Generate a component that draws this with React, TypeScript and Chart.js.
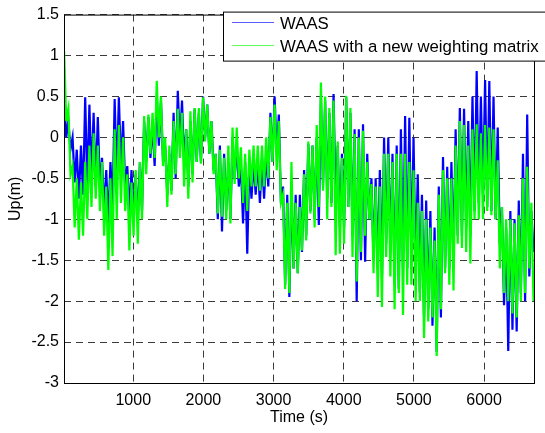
import React, { useEffect, useRef } from 'react';
import { Chart, registerables } from 'chart.js';

Chart.register(...registerables);

// Sampling of the time axis (seconds)
const START_TIME = 15;
const SAMPLE_STEP = 60;

// Axis ticks
const X_TICKS = [1000, 2000, 3000, 4000, 5000, 6000];
const Y_TICKS = [1.5, 1, 0.5, 0, -0.5, -1, -1.5, -2, -2.5, -3];

// WAAS: upper / lower excursion per 60 s sample window (m)
const waasHigh = [
  0.5, 0.2, 0.0, -0.15, -0.1, 0.49, 0.4, 0.3, 0.25, -0.25,
  -0.4, -0.3, 0.47, 0.49, 0.2, -0.35, -0.4, -0.45, -0.3, 0.2,
  0.25, 0.15, 0.5, 0.45, -0.1, -0.2, 0.3, 0.57, 0.45, 0.1,
  0.2, 0.35, 0.3, 0.5, 0.4, 0.2, -0.2, -0.1, -0.2, -0.3,
  0.0, -0.1, -0.35, -0.3, -0.3, -0.3, -0.3, -0.25, -0.2, 0.3,
  0.5, 0.28, -0.6, -0.7, -0.6, -0.7, -0.7, -0.4, -0.08, -0.1,
  0.0, 0.5, 0.45, 0.3, 0.53, -0.1, -0.2, 0.49, 0.3, 0.1,
  0.1, 0.16, -0.2, -0.5, -0.5, -0.4, 0.0, 0.0, -0.2, -0.1,
  0.1, 0.26, 0.24, 0.0, -0.45, -0.7, -0.77, -0.9, -1.1, -0.6,
  -0.24, -0.36, -0.3, 0.1, 0.36, 0.35, 0.2, 0.5, 0.81, 0.5,
  0.7, 0.69, 0.5, 0.12, -0.85, -1.1, -0.9, -1.0, -0.77, -0.2,
  0.28, -0.9,
];
const waasLow = [
  0.0, -0.15, -0.55, -0.75, -0.7, -0.6, -0.5, -0.6, -0.6, -0.9,
  -1.05, -0.85, -0.5, -0.35, -0.6, -0.9, -0.95, -1.0, -0.9, -0.3,
  -0.25, -0.35, -0.1, -0.3, -0.7, -0.65, -0.5, -0.1, -0.3, -0.6,
  -0.45, -0.3, -0.3, 0.0, -0.2, -0.4, -1.0, -1.15, -0.9, -1.0,
  -0.5, -0.6, -1.05, -1.42, -0.75, -0.7, -0.8, -0.75, -0.6, -0.3,
  -0.2, -0.8, -1.8, -1.95, -1.6, -1.66, -1.4, -1.2, -0.9, -1.0,
  -1.07, -0.6, -0.75, -0.8, -0.8, -1.1, -1.1, -0.85, -1.2, -2.0,
  -1.5, -1.52, -1.0, -1.5, -1.6, -1.7, -1.3, -1.4, -1.8, -1.85,
  -1.6, -1.6, -1.5, -1.6, -1.9, -2.2, -2.1, -2.3, -2.62, -2.2,
  -1.6, -1.6, -1.5, -1.2, -1.2, -1.1, -1.2, -0.9, -0.8, -0.7,
  -0.85, -0.9, -1.0, -1.3, -2.05, -2.61, -2.35, -2.37, -1.9, -2.0,
  -1.7, -1.4,
];

// WAAS with a new weighting matrix: upper / lower excursion per window (m)
const newHigh = [
  1.05, 0.35, -0.35, -0.5, -0.55, -0.3, -0.1, 0.05, -0.1, -0.3,
  -0.6, -0.5, 0.1, 0.15, 0.0, -0.45, -0.55, -0.4, -0.3, 0.26,
  0.28, 0.3, 0.69, 0.5, 0.0, -0.1, 0.2, 0.35, 0.3, 0.1,
  0.32, 0.36, 0.36, 0.49, 0.4, 0.2, -0.2, -0.15, -0.25, -0.1,
  0.12, 0.12, -0.12, -0.2, -0.15, -0.1, -0.1, -0.1, 0.0, 0.25,
  0.4, 0.2, -0.7, -0.8, -0.3, -0.8, -0.85, -0.45, -0.05, -0.1,
  0.15, 0.67, 0.5, 0.36, 0.45, -0.05, -0.25, 0.51, 0.36, 0.04,
  0.0, 0.08, -0.3, -0.57, -0.6, -0.6, -0.2, -0.2, -0.3, -0.2,
  -0.2, -0.2, -0.3, -0.4, -0.8, -0.9, -1.0, -1.1, -1.26, -0.7,
  -0.4, -0.5, -0.5, -0.1, 0.2, 0.15, -0.1, 0.1, 0.16, 0.05,
  0.15, 0.12, 0.1, -0.28, -0.85, -1.0, -1.0, -1.05, -0.95, -0.5,
  -0.36, -0.8,
];
const newLow = [
  0.2, -0.45, -1.1, -1.25, -1.2, -1.0, -0.85, -0.75, -0.9, -1.2,
  -1.62, -1.45, -1.0, -0.8, -0.9, -1.38, -1.2, -1.3, -1.0, -0.45,
  -0.2, -0.25, 0.0, -0.35, -0.85, -0.7, -0.45, -0.25, -0.6, -0.75,
  -0.55, -0.3, -0.32, -0.05, -0.2, -0.45, -0.93, -0.97, -1.0, -1.05,
  -0.57, -0.5, -0.8, -0.9, -0.6, -0.6, -0.65, -0.6, -0.5, -0.3,
  -0.4, -0.8, -1.85, -1.9, -1.6, -1.66, -1.38, -1.26, -0.93, -1.1,
  -0.85, -0.65, -1.0, -0.85, -1.44, -1.42, -1.3, -0.85, -1.46, -1.76,
  -1.4, -1.2, -1.0, -1.66, -1.95, -2.07, -1.46, -1.7, -2.1, -1.9,
  -2.17, -1.8, -1.8, -2.0, -2.0, -2.45, -2.25, -2.2, -2.67, -2.1,
  -1.66, -1.8, -1.87, -1.3, -1.35, -1.4, -1.54, -1.0, -1.0, -1.0,
  -0.9, -0.95, -1.0, -1.6, -1.9, -2.0, -2.15, -2.2, -2.0, -1.9,
  -1.6, -2.0,
];

const SERIES_LABELS = ['WAAS', 'WAAS with a new weighting matrix'];
const SERIES_COLORS = ['#0000ff', '#00ff00'];
const LEGEND_SAMPLE_COLORS = ['#5c5cff', '#5cff5c'];

const FONT_FAMILY = "'Liberation Sans', Arial, Helvetica, sans-serif";
const FONT_SIZE = 16;
const GRID_COLOR = '#3a3a3a';

function buildSeries(high: number[], low: number[]) {
  const pts: { x: number; y: number }[] = [];
  for (let k = 0; k < high.length; k++) {
    const t = START_TIME + k * SAMPLE_STEP;
    pts.push({ x: t, y: high[k] });
    pts.push({ x: t + SAMPLE_STEP / 2, y: low[k] });
  }
  return pts;
}

const decorPlugin = {
  id: 'matlabDecor',
  afterDraw(chart: any) {
    const { ctx, chartArea: a } = chart;
    ctx.save();
    ctx.setLineDash([]);
    ctx.strokeStyle = '#000';
    ctx.lineWidth = 1;
    ctx.strokeRect(a.left + 0.5, a.top + 0.5, a.right - a.left, a.bottom - a.top);

    ctx.fillStyle = '#000';
    ctx.font = `${FONT_SIZE}px ${FONT_FAMILY}`;
    ctx.textAlign = 'center';
    ctx.textBaseline = 'alphabetic';
    ctx.fillText('Time (s)', (a.left + a.right) / 2, a.bottom + 39);

    ctx.save();
    ctx.translate(20, (a.top + a.bottom) / 2);
    ctx.rotate(-Math.PI / 2);
    ctx.fillText('Up(m)', 0, 0);
    ctx.restore();

    // legend box
    const lx = a.left + 159.5;
    const ly = a.top - 2.5;
    ctx.fillStyle = '#fff';
    ctx.fillRect(lx, ly, 340, 49);
    ctx.strokeStyle = '#000';
    ctx.strokeRect(lx, ly, 340, 49);

    ctx.font = `16.8px ${FONT_FAMILY}`;
    ctx.textAlign = 'left';
    const rows = [22.5, 45.5];
    SERIES_LABELS.forEach((label, i) => {
      ctx.strokeStyle = LEGEND_SAMPLE_COLORS[i];
      ctx.beginPath();
      ctx.moveTo(232, rows[i]);
      ctx.lineTo(274, rows[i]);
      ctx.stroke();
      ctx.fillStyle = '#000';
      ctx.fillText(label, 280, rows[i] + 6.5);
    });
    ctx.restore();
  },
};

export default function App() {
  const canvasRef = useRef<HTMLCanvasElement | null>(null);

  useEffect(() => {
    if (!canvasRef.current) return;
    const font = { family: FONT_FAMILY, size: FONT_SIZE };
    const chart = new Chart(canvasRef.current, {
      type: 'line',
      data: {
        datasets: [
          {
            label: SERIES_LABELS[0],
            data: buildSeries(waasHigh, waasLow),
            borderColor: SERIES_COLORS[0],
            borderWidth: 2.2,
            pointRadius: 0,
            tension: 0,
            fill: false,
            order: 1,
          },
          {
            label: SERIES_LABELS[1],
            data: buildSeries(newHigh, newLow),
            borderColor: SERIES_COLORS[1],
            borderWidth: 2.2,
            pointRadius: 0,
            tension: 0,
            fill: false,
            order: 0,
          },
        ],
      },
      options: {
        animation: false,
        responsive: false,
        devicePixelRatio: 1,
        events: [],
        layout: { padding: { top: 13, right: 11, left: 0, bottom: 0 } },
        plugins: {
          legend: { display: false },
          tooltip: { enabled: false },
          title: { display: false },
        },
        scales: {
          x: {
            type: 'linear',
            min: 13,
            max: 6712,
            afterFit: (s: any) => { s.height = 50; },
            afterBuildTicks: (s: any) => { s.ticks = X_TICKS.map((v) => ({ value: v })); },
            grid: { color: GRID_COLOR, lineWidth: 1, drawTicks: false },
            border: { display: false, dash: [7, 5] },
            ticks: {
              color: '#000',
              font,
              padding: 8,
              maxRotation: 0,
              autoSkip: false,
              callback: (v: any) => String(v),
            },
          },
          y: {
            type: 'linear',
            min: -3,
            max: 1.5,
            afterFit: (s: any) => { s.width = 64; },
            afterBuildTicks: (s: any) => { s.ticks = Y_TICKS.map((v) => ({ value: v })); },
            grid: { color: GRID_COLOR, lineWidth: 1, drawTicks: false },
            border: { display: false, dash: [7, 5] },
            ticks: {
              color: '#000',
              font,
              padding: 5,
              autoSkip: false,
              callback: (v: any) => String(v),
            },
          },
        },
      },
      plugins: [decorPlugin],
    });
    return () => chart.destroy();
  }, []);

  return (
    <div style={{ position: 'fixed', left: 0, top: 0, width: 545, height: 433, background: '#fff' }}>
      <canvas ref={canvasRef} width={545} height={433} style={{ display: 'block' }} />
    </div>
  );
}
